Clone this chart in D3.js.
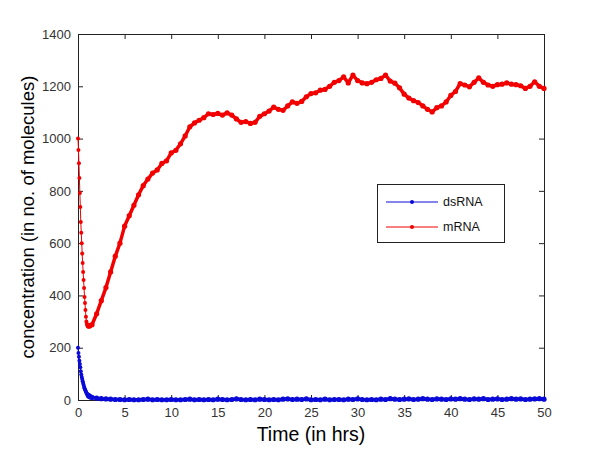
<!DOCTYPE html>
<html>
<head>
<meta charset="utf-8">
<script src="https://cdn.jsdelivr.net/npm/d3@7"></script>
<style>
	body { margin: 0; background: #fff; }
	svg { font-family: Arial, 'Liberation Sans', sans-serif; }
</style>
</head>
<body>
<div id="chart"></div>
<script>
// fast initial phase (t = 0 .. 1.3, every 0.05 hr)
const earlyTimes = d3.range(0, 1.31, 0.05).map(d => +d.toFixed(2));
const mrnaEarly = [1000, 956, 906, 849, 792, 738, 681, 640, 600, 560, 524, 490, 459, 428, 394, 371,
	344, 318, 300, 292, 287, 285, 284, 283, 283, 284, 285];
const dsrnaEarly = [200, 180, 165, 150, 138, 125, 110, 98, 88, 80, 72, 65, 58, 51, 45, 40,
	36, 32, 28, 25, 22, 20, 18, 16, 15, 13, 12];

// slow phase (t = 1.5 .. 50, every 0.5 hr)
const lateTimes = d3.range(1.5, 50.01, 0.5).map(d => +d.toFixed(1));
const mrnaLate = [288, 330, 380, 430, 490, 550, 600, 665, 705, 745, 785, 820, 845, 868, 880, 905,
	915, 945, 955, 980, 1010, 1045, 1060, 1070, 1080, 1095, 1092, 1096, 1090, 1098, 1090, 1075,
	1062, 1065, 1058, 1062, 1085, 1095, 1105, 1120, 1112, 1108, 1125, 1140, 1135, 1142, 1160, 1172,
	1175, 1185, 1188, 1200, 1215, 1222, 1236, 1213, 1243, 1222, 1213, 1210, 1215, 1225, 1230, 1243,
	1220, 1212, 1194, 1170, 1155, 1145, 1138, 1125, 1112, 1102, 1118, 1125, 1140, 1165, 1180, 1210,
	1205, 1198, 1215, 1232, 1215, 1205, 1200, 1206, 1208, 1213, 1208, 1206, 1202, 1192, 1200, 1217,
	1200, 1192];
const dsrnaLate = [10, 7, 5, 4, 3, 2, 2, 1, 2, 1, 1, 2, 3, 1, 2, 1,
	1, 2, 1, 1, 2, 3, 1, 2, 1, 2, 1, 3, 2, 1, 2, 4,
	2, 1, 2, 1, 3, 2, 1, 2, 1, 3, 4, 2, 3, 2, 4, 1,
	2, 1, 3, 1, 2, 2, 1, 3, 2, 4, 2, 1, 2, 1, 3, 2,
	5, 3, 2, 3, 4, 2, 3, 5, 3, 2, 4, 3, 2, 4, 3, 5,
	3, 2, 4, 3, 5, 2, 3, 4, 2, 3, 5, 3, 4, 2, 3, 4,
	5, 3];

const xTicks = d3.range(0, 51, 5);
const yTicks = d3.range(0, 1401, 200);
const seriesNames = ['dsRNA', 'mRNA'];
const seriesColors = ['#0a0ad8', '#f20000'];

const series = [
	{ name: seriesNames[0], color: seriesColors[0], early: dsrnaEarly, late: dsrnaLate },
	{ name: seriesNames[1], color: seriesColors[1], early: mrnaEarly, late: mrnaLate }
];

let dimensions = {
	width  : 600,
	height : 450,
	margin : { top: 34, right: 56, bottom: 50, left: 78 }
};
dimensions.boundedWidth = dimensions.width - dimensions.margin.left - dimensions.margin.right;
dimensions.boundedHeight = dimensions.height - dimensions.margin.top - dimensions.margin.bottom;

const svg = d3.select('#chart').append('svg').attr('width', dimensions.width).attr('height', dimensions.height);
const bounds = svg.append('g').attr('transform', `translate(${dimensions.margin.left}, ${dimensions.margin.top})`);

const x = d3.scaleLinear().domain([0, 50]).range([0, dimensions.boundedWidth]);
const y = d3.scaleLinear().domain([0, 1400]).range([dimensions.boundedHeight, 0]);

const axisColor = '#222';
const tickLen = 5;

// axes: ticks pointing inward on all four sides (matlab style)
function styleAxis(g) {
	g.select('.domain').remove();
	g.selectAll('.tick line').attr('stroke', axisColor);
	g.selectAll('.tick text').attr('fill', '#333').attr('font-size', '13px');
}
bounds.append('g').attr('transform', `translate(0, ${dimensions.boundedHeight})`)
	.call(d3.axisBottom(x).tickValues(xTicks).tickSize(-tickLen).tickPadding(8).tickFormat(d3.format('d')))
	.call(styleAxis);
bounds.append('g')
	.call(d3.axisTop(x).tickValues(xTicks).tickSize(-tickLen).tickFormat(''))
	.call(styleAxis);
bounds.append('g')
	.call(d3.axisLeft(y).tickValues(yTicks).tickSize(-tickLen).tickPadding(7).tickFormat(d3.format('d')))
	.call(styleAxis);
bounds.append('g').attr('transform', `translate(${dimensions.boundedWidth}, 0)`)
	.call(d3.axisRight(y).tickValues(yTicks).tickSize(-tickLen).tickFormat(''))
	.call(styleAxis);

bounds.append('rect')
	.attr('width', dimensions.boundedWidth)
	.attr('height', dimensions.boundedHeight)
	.attr('fill', 'none')
	.attr('stroke', axisColor)
	.attr('stroke-width', 1)
	.attr('shape-rendering', 'crispEdges');

// lines + dot markers: thin line during the fast drop, dense thick band afterwards
function drawPart(g, times, values, color, width, r) {
	const pts = values.map((v, i) => [times[i], v]);
	g.append('path')
		.datum(pts)
		.attr('fill', 'none')
		.attr('stroke', color)
		.attr('stroke-width', width)
		.attr('stroke-linejoin', 'round')
		.attr('d', d3.line().x(d => x(d[0])).y(d => y(d[1])));
	g.selectAll(null)
		.data(pts)
		.enter()
		.append('circle')
		.attr('cx', d => x(d[0]))
		.attr('cy', d => y(d[1]))
		.attr('r', r)
		.attr('fill', color);
}

series.slice().reverse().forEach(function(s) {
	const g = bounds.append('g');
	const lastEarly = earlyTimes.length - 1;
	drawPart(g, earlyTimes.slice(0, lastEarly - 3), s.early.slice(0, lastEarly - 3), s.color, 1, 2);
	drawPart(g, earlyTimes.slice(lastEarly - 4).concat(lateTimes), s.early.slice(lastEarly - 4).concat(s.late), s.color, 3.5, 2.6);
});

// legend
const legend = svg.append('g').attr('transform', 'translate(377, 184)');
legend.append('rect')
	.attr('width', 127)
	.attr('height', 58)
	.attr('fill', '#fff')
	.attr('stroke', '#222')
	.attr('shape-rendering', 'crispEdges');
series.forEach(function(s, i) {
	const ly = 18 + i * 25;
	legend.append('line')
		.attr('x1', 9).attr('x2', 61)
		.attr('y1', ly).attr('y2', ly)
		.attr('stroke', s.color)
		.attr('stroke-width', 1);
	legend.append('circle').attr('cx', 35).attr('cy', ly).attr('r', 2).attr('fill', s.color);
	legend.append('text')
		.attr('x', 66).attr('y', ly + 4)
		.attr('font-size', '12.5px')
		.attr('fill', '#111')
		.text(s.name);
});

// axis titles
svg.append('text')
	.attr('x', dimensions.margin.left + dimensions.boundedWidth / 2)
	.attr('y', 441)
	.attr('text-anchor', 'middle')
	.attr('font-size', '19.5px')
	.attr('fill', '#000')
	.text('Time (in hrs)');

svg.append('text')
	.attr('transform', `translate(34, ${dimensions.margin.top + dimensions.boundedHeight / 2}) rotate(-90)`)
	.attr('text-anchor', 'middle')
	.attr('font-size', '18.5px')
	.attr('fill', '#000')
	.text('concentration (in no. of molecules)');
</script>
</body>
</html>
